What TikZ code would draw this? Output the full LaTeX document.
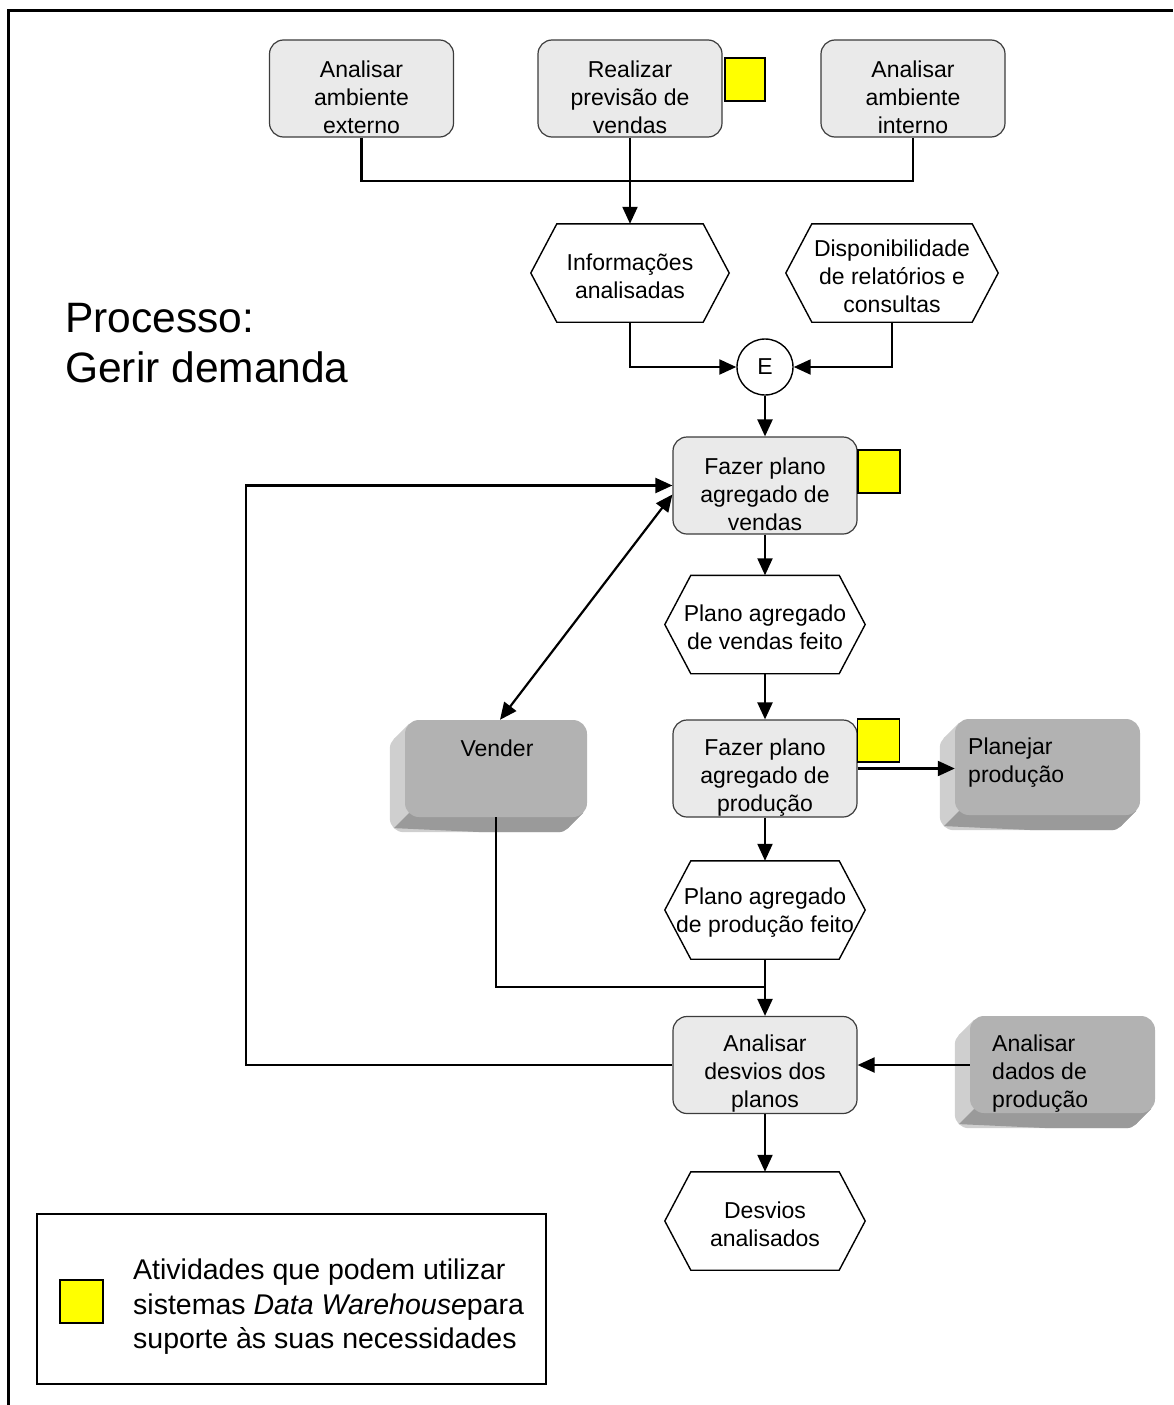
\documentclass[tikz,border=0pt]{standalone}
\usepackage{fontspec}
\setmainfont{Liberation Sans}
\usetikzlibrary{arrows.meta,calc,backgrounds}

\definecolor{boxfill}{HTML}{EAEAEA}
\definecolor{boxedge}{HTML}{3C3C3C}
\definecolor{dwyellow}{HTML}{FFFF00}
\definecolor{faceg}{HTML}{B2B2B2}
\definecolor{bevlight}{HTML}{CFCFCF}
\definecolor{bevdark}{HTML}{9A9A9A}

\newcommand\boxfont{\fontsize{23}{28}\selectfont}

\tikzset{
  procbox/.style={draw=boxedge, fill=boxfill, line width=1.2pt, rounded corners=14pt,
    minimum width=184pt, minimum height=97pt, inner sep=0pt},
  facebox/.style={fill=faceg, rounded corners=14pt, minimum width=184pt,
    minimum height=97pt, inner sep=0pt},
  hexbox/.style={minimum height=98pt, inner sep=0pt},
  hexline/.style={draw=black, fill=white, line width=1.4pt},
  txt/.style={font=\boxfont, align=center, inner sep=0pt},
  ltxt/.style={font=\boxfont, align=left, inner sep=0pt},
  dwmark/.style={draw=black, fill=dwyellow, line width=1.3pt, minimum width=42pt,
    minimum height=43pt, inner sep=0pt},
  conn/.style={line width=2.2pt, draw=black},
  arr/.style={conn, -{Triangle[length=17pt,width=15pt]}},
  darr/.style={conn, {Triangle[length=17pt,width=15pt]}-{Triangle[length=17pt,width=15pt]}},
}

% rounded process box with its text set a little low
\newcommand\procnode[3]{%
  \node[procbox] (#1) at (#2) {};
  \node[txt] (#1-t) at ([yshift=-9pt]#1.center) {#3};}

% hexagonal event node
\newcommand\hexnode[4]{%
  \node[hexbox, minimum width=#3] (#1) at (#2) {};
  \draw[hexline] (#1.west) -- ([xshift=26pt]#1.north west) -- ([xshift=-26pt]#1.north east)
    -- (#1.east) -- ([xshift=-26pt]#1.south east) -- ([xshift=26pt]#1.south west) -- cycle;
  \node[txt] (#1-t) at ([yshift=-3pt]#1.center) {#4};}

% extruded edge behind a raised (3D) box
\newcommand\bevelof[1]{%
  \begin{pgfonlayer}{background}
    \fill[bevlight] ($(#1.north west)+(4.1,4.1)$) -- ($(#1.north west)+(-10.9,19.1)$)
      -- ($(#1.south east)+(-19.1,10.9)$) -- ($(#1.south east)+(-4.1,-4.1)$) -- cycle;
    \fill[bevlight, rounded corners=14pt] ($(#1.north west)+(-15,15)$) rectangle ($(#1.south east)+(-15,15)$);
    \begin{scope}
      \clip ($(#1.south west)+(4.1,-4.1)$) -- ($(#1.south west)+(-10.9,10.9)$)
        -- ($(#1.south east)+(5,20)$) -- ($(#1.south east)+(5,-4.1)$) -- cycle;
      \fill[bevdark] ($(#1.north west)+(4.1,4.1)$) -- ($(#1.north west)+(-10.9,19.1)$)
        -- ($(#1.south east)+(-19.1,10.9)$) -- ($(#1.south east)+(-4.1,-4.1)$) -- cycle;
      \fill[bevdark, rounded corners=14pt] ($(#1.north west)+(-15,15)$) rectangle ($(#1.south east)+(-15,15)$);
    \end{scope}
  \end{pgfonlayer}}

\begin{document}
\begin{tikzpicture}[x=1pt,y=-1pt]
\useasboundingbox (0,0) rectangle (1173,1405);

% page frame (top and left edges)
\draw[line width=3pt] (8,1405) -- (8,11) -- (1173,11);

% title
\node[font=\fontsize{42.5}{50}\selectfont, align=left, anchor=west, inner sep=0pt]
  (title) at (65,343) {Processo:\\Gerir demanda};

% top row of activities
\procnode{ext}{361.5,88.5}{Analisar\\ambiente\\externo}
\procnode{prev}{630,88.5}{Realizar\\previsão de\\vendas}
\procnode{int}{913,88.5}{Analisar\\ambiente\\interno}
\node[dwmark, minimum width=40pt] (m1) at (745,79.5) {};

% events and junction
\hexnode{info}{630,273}{198pt}{Informações\\analisadas}
\hexnode{disp}{892,273}{212pt}{Disponibilidade\\de relatórios e\\consultas}
\node[circle, draw, line width=1.4pt, fill=white, minimum size=56pt, inner sep=0pt,
  font=\boxfont] (E) at (765,367) {E};

% main column
\procnode{fpv}{765,485.5}{Fazer plano\\agregado de\\vendas}
\node[dwmark] (m2) at (879,471.5) {};
\hexnode{pvf}{765,624.5}{200pt}{Plano agregado\\de vendas feito}
\procnode{fpp}{765,768.5}{Fazer plano\\agregado de\\produção}
\node[dwmark] (m3) at (878.5,740.5) {};
\hexnode{ppf}{765,910}{200pt}{Plano agregado\\de produção feito}
\procnode{ad}{765,1065}{Analisar\\desvios dos\\planos}
\hexnode{da}{765,1221}{200pt}{Desvios\\analisados}

% raised boxes for neighbouring processes
\node[facebox, minimum width=182pt] (vender) at (496,768.5) {};
\bevelof{vender}
\node[txt] (vender-t) at (497,748) {Vender};
\node[facebox, minimum width=185pt, minimum height=96pt] (plan) at (1047.5,767) {};
\bevelof{plan}
\node[ltxt, anchor=north west] (plan-t) at (968,738) {Planejar\\produção};
\node[facebox, minimum width=185pt] (dados) at (1062.5,1064.5) {};
\bevelof{dados}
\node[ltxt, anchor=north west] (dados-t) at (992,1035) {Analisar\\dados de\\produção};

% connectors
\coordinate (topbar) at (630,181);
\draw[conn] (ext.south) |- (topbar) -| (int.south);
\draw[arr] (prev.south) -- (info.north);
\draw[arr] (info.south) |- (E.west);
\draw[arr] (disp.south) |- (E.east);
\draw[arr] (E.south) -- (fpv.north);
\draw[arr] (fpv.south) -- (pvf.north);
\draw[arr] (pvf.south) -- (fpp.north);
\draw[arr] (fpp.south) -- (ppf.north);
\draw[arr] (fpp.east) -- (fpp.east -| plan.west);
\draw[arr] (ppf.south) -- (ad.north);
\coordinate (join) at (765,987);
\draw[conn] (vender.south) |- (join);
\draw[arr] (dados.west |- ad.east) -- (ad.east);
\draw[arr] (ad.south) -- (da.north);
\coordinate (loopx) at (246,1065);
\draw[arr] (ad.west) -- (loopx) |- (fpv.west);
\draw[darr] ([xshift=4pt]vender.north) -- ([yshift=-9pt]fpv.west);

% legend
\node[draw, line width=2pt, minimum width=509pt, minimum height=170pt, inner sep=0pt]
  (legend) at (291.5,1299) {};
\node[dwmark, minimum width=43pt] (m4) at (81.5,1301.5) {};
\node[font=\fontsize{28.5}{34.5}\selectfont, align=left, anchor=west, inner sep=0pt]
  (legend-t) at (133,1307) {Atividades que podem utilizar\\sistemas \textit{Data Warehouse}para\\suporte às suas necessidades};
\end{tikzpicture}
\end{document}
